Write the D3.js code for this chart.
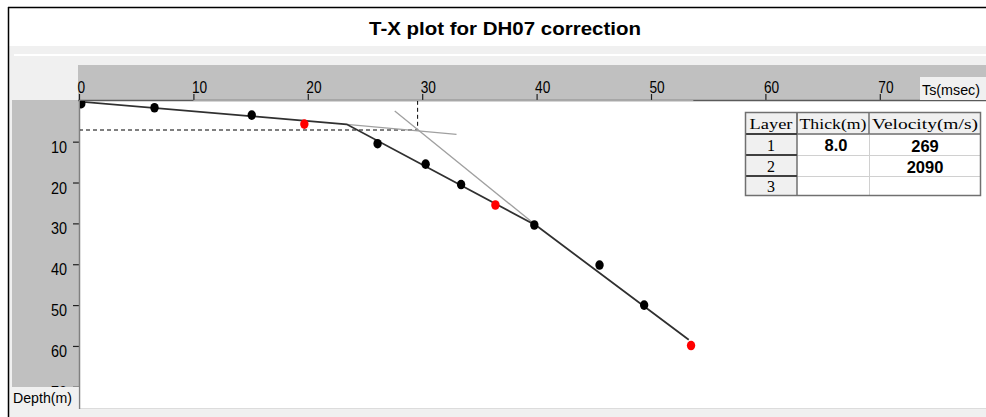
<!DOCTYPE html>
<html><head><meta charset="utf-8">
<script src="https://cdn.jsdelivr.net/npm/d3@7"></script>
<style>html,body{margin:0;padding:0;background:#fff;overflow:hidden}</style>
</head><body>
<svg id="c" width="986" height="417"></svg>
<script>
// ---- data ----
const timeMs   = [0.2, 6.6, 15.1, 19.7, 26.1, 30.3, 33.4, 36.4, 39.8, 45.5, 49.4, 53.5];
const depthM   = [0.7, 1.7, 3.5, 5.7, 10.5, 15.5, 20.5, 25.5, 30.4, 40.2, 50.0, 59.9];
const excluded = [false, false, false, true, false, false, false, true, false, false, false, true];
// fitted travel-time polyline
const fitT = [0, 23.4, 40.0, 53.3];
const fitD = [0.2, 5.75, 30.6, 58.5];
// extension (construction) lines
const ext1T = [23.4, 33.0], ext1D = [5.75, 8.2];
const ext2T = [27.6, 40.0], ext2D = [2.5, 30.6];
// intercept marker
const crossT = 29.6, crossD = 7.15;
// ticks
const xTicks = [0, 10, 20, 30, 40, 50, 60, 70];
const yTicks = [10, 20, 30, 40, 50, 60, 70];
// table
const tableHeader = ["Layer", "Thick(m)", "Velocity(m/s)"];
const layers = ["1", "2", "3"];
const thick = ["8.0", "", ""];
const velocity = ["269", "2090", ""];

const svg = d3.select("#c");
const x = d3.scaleLinear().domain([0, 70]).range([79, 879.8]);
const y = d3.scaleLinear().domain([0, 70]).range([100.8, 386.8]);

// ---- frame / background ----
svg.append("rect").attr("x",0).attr("y",0).attr("width",986).attr("height",417).attr("fill","#fff");
svg.append("rect").attr("x",9).attr("y",46).attr("width",977).attr("height",371).attr("fill","#f0f0f0");
svg.append("rect").attr("x",14).attr("y",54).attr("width",972).attr("height",2).attr("fill","#fff");
svg.append("line").attr("x1",8.5).attr("x2",8.5).attr("y1",7).attr("y2",417).attr("stroke","#000").attr("stroke-width",1.5);
svg.append("line").attr("x1",8).attr("x2",986).attr("y1",7.5).attr("y2",7.5).attr("stroke","#000").attr("stroke-width",1.5);

// title
svg.append("text").attr("x",505).attr("y",35).attr("text-anchor","middle")
  .attr("font-family","'Liberation Sans', Arial, sans-serif").attr("font-weight","bold").attr("font-size",18)
  .attr("textLength",272).attr("lengthAdjust","spacingAndGlyphs").attr("fill","#000")
  .text("T-X plot for DH07 correction");

// axis bands
svg.append("rect").attr("x",78).attr("y",65).attr("width",908).attr("height",36).attr("fill","#c0c0c0");
svg.append("rect").attr("x",12).attr("y",100).attr("width",67).attr("height",287).attr("fill","#c0c0c0");
// plot area
svg.append("rect").attr("x",80).attr("y",101).attr("width",906).attr("height",307).attr("fill","#fff");
svg.append("line").attr("x1",80).attr("x2",986).attr("y1",408.5).attr("y2",408.5).attr("stroke","#dcdcdc");

const defs = svg.append("defs");
defs.append("clipPath").attr("id","plotclip").append("rect")
  .attr("x",80).attr("y",101).attr("width",906).attr("height",307);
defs.append("clipPath").attr("id","yclip").append("rect")
  .attr("x",0).attr("y",100).attr("width",80).attr("height",287);

// x axis
const xg = svg.append("g").attr("transform","translate(0,100)")
  .call(d3.axisTop(x).tickValues(xTicks).tickSize(6).tickFormat(d3.format("d")));
xg.select(".domain").remove();
xg.selectAll(".tick line").attr("stroke","#202020").attr("stroke-width",1.2);
xg.selectAll(".tick text").attr("x",-2).attr("y",-7).attr("dy",0).attr("text-anchor","start")
  .attr("font-family","'Liberation Sans', Arial, sans-serif").attr("font-size",16).attr("fill","#000")
  .each(function(){ const n=this.textContent.length; d3.select(this).attr("textLength", n*7.6).attr("lengthAdjust","spacingAndGlyphs"); });
svg.append("line").attr("x1",78).attr("x2",986).attr("y1",100.5).attr("y2",100.5).attr("stroke","#5a5a5a").attr("stroke-width",1.5);
svg.append("line").attr("x1",x(10)).attr("x2",x(53.7)).attr("y1",100.5).attr("y2",100.5).attr("stroke","#a8a8a8").attr("stroke-width",1.2);

// Ts label box
svg.append("rect").attr("x",920).attr("y",77).attr("width",66).attr("height",23).attr("fill","#f0f0f0");
svg.append("text").attr("x",922).attr("y",95).attr("font-family","'Liberation Sans', Arial, sans-serif")
  .attr("font-size",15).attr("textLength",58).attr("lengthAdjust","spacingAndGlyphs").attr("fill","#000").text("Ts(msec)");

// y axis (clipped: the last label is partly hidden by the Depth(m) box)
const yg = svg.append("g").attr("clip-path","url(#yclip)").append("g").attr("transform","translate(79,0)")
  .call(d3.axisLeft(y).tickValues(yTicks).tickSize(6).tickFormat(d3.format("d")));
yg.select(".domain").remove();
yg.selectAll(".tick line").attr("stroke","#202020").attr("stroke-width",1.2);
yg.selectAll(".tick text").attr("x",-12).attr("y",10.5).attr("dy",0).attr("text-anchor","end")
  .attr("font-family","'Liberation Sans', Arial, sans-serif").attr("font-size",16).attr("fill","#000")
  .attr("textLength",16).attr("lengthAdjust","spacingAndGlyphs");
svg.append("line").attr("x1",79.5).attr("x2",79.5).attr("y1",100).attr("y2",409).attr("stroke","#808080").attr("stroke-width",1.5);

// Depth label box
svg.append("rect").attr("x",12).attr("y",387).attr("width",66.5).attr("height",22).attr("fill","#f0f0f0");
svg.append("text").attr("x",13).attr("y",403).attr("font-family","'Liberation Sans', Arial, sans-serif")
  .attr("font-size",15).attr("textLength",59).attr("lengthAdjust","spacingAndGlyphs").attr("fill","#000").text("Depth(m)");

// ---- plot content ----
const plot = svg.append("g").attr("clip-path","url(#plotclip)");
const line = d3.line().x(d => x(d[0])).y(d => y(d[1]));

// dashed intercept guides
plot.append("path").attr("d", line([[0, crossD],[crossT, crossD]]))
  .attr("fill","none").attr("stroke","#000").attr("stroke-width",1).attr("stroke-dasharray","4,3");
plot.append("path").attr("d", line([[crossT, 0],[crossT, crossD]]))
  .attr("fill","none").attr("stroke","#000").attr("stroke-width",1).attr("stroke-dasharray","4,3");

// extension lines
plot.append("path").attr("d", line(ext1T.map((t,i)=>[t, ext1D[i]])))
  .attr("fill","none").attr("stroke","#a0a0a0").attr("stroke-width",1.3);
plot.append("path").attr("d", line(ext2T.map((t,i)=>[t, ext2D[i]])))
  .attr("fill","none").attr("stroke","#a0a0a0").attr("stroke-width",1.3);

// fitted polyline
plot.append("path").attr("d", line(fitT.map((t,i)=>[t, fitD[i]])))
  .attr("fill","none").attr("stroke","#303030").attr("stroke-width",1.8);

// points
plot.selectAll("ellipse.pt").data(timeMs.map((t,i)=>({t, d:depthM[i], ex:excluded[i]})))
  .enter().append("ellipse").attr("class","pt")
  .attr("cx", d => x(d.t)).attr("cy", d => y(d.d)).attr("rx", 4.2).attr("ry", 4.8)
  .attr("fill", d => d.ex ? "#ff0000" : "#000");

// ---- table ----
const colX = [745, 797, 869, 981];
const rowY = [112, 134, 155, 176, 196];
const tg = svg.append("g");
tg.append("rect").attr("x",colX[0]).attr("y",rowY[0]).attr("width",colX[3]-colX[0]).attr("height",rowY[4]-rowY[0]).attr("fill","#fff");
tg.append("rect").attr("x",colX[0]).attr("y",rowY[0]).attr("width",colX[3]-colX[0]).attr("height",rowY[1]-rowY[0]).attr("fill","#f0f0f0");
tg.append("rect").attr("x",colX[0]).attr("y",rowY[0]).attr("width",colX[1]-colX[0]).attr("height",rowY[4]-rowY[0]).attr("fill","#f0f0f0");
for (let r = 2; r < 4; r++) tg.append("line").attr("x1",colX[1]).attr("x2",colX[3]).attr("y1",rowY[r]+0.5).attr("y2",rowY[r]+0.5).attr("stroke","#d0d0d0");
tg.append("line").attr("x1",colX[2]+0.5).attr("x2",colX[2]+0.5).attr("y1",rowY[1]).attr("y2",rowY[4]).attr("stroke","#d0d0d0");
tg.append("line").attr("x1",colX[1]).attr("x2",colX[3]).attr("y1",rowY[1]).attr("y2",rowY[1]).attr("stroke","#909090").attr("stroke-width",2);
[1,2].forEach(c => tg.append("line").attr("x1",colX[c]).attr("x2",colX[c]).attr("y1",rowY[0]).attr("y2",rowY[1]).attr("stroke","#707070").attr("stroke-width",1.5));
tg.append("line").attr("x1",colX[1]).attr("x2",colX[1]).attr("y1",rowY[0]).attr("y2",rowY[4]).attr("stroke","#707070").attr("stroke-width",1.5);
[1,2,3].forEach(r => tg.append("line").attr("x1",colX[0]).attr("x2",colX[1]).attr("y1",rowY[r]).attr("y2",rowY[r]).attr("stroke","#404040").attr("stroke-width",2));
tg.append("rect").attr("x",colX[0]+0.5).attr("y",rowY[0]+0.5).attr("width",colX[3]-colX[0]-1).attr("height",rowY[4]-rowY[0]-1)
  .attr("fill","none").attr("stroke","#707070").attr("stroke-width",1.5);

const headW = [43, 67, 106];
tableHeader.forEach((h,i) => {
  tg.append("text").attr("x",(colX[i]+colX[i+1])/2).attr("y",129).attr("text-anchor","middle")
    .attr("font-family","'Liberation Serif', 'DejaVu Serif', serif").attr("font-size",15)
    .attr("textLength",headW[i]).attr("lengthAdjust","spacingAndGlyphs").attr("fill","#000").text(h);
});
layers.forEach((l,i) => {
  tg.append("text").attr("x",(colX[0]+colX[1])/2).attr("y",rowY[i+2]-4).attr("text-anchor","middle")
    .attr("font-family","'Liberation Serif', 'DejaVu Serif', serif").attr("font-size",16).attr("fill","#000").text(l);
  if (thick[i]) tg.append("text").attr("x",836).attr("y",rowY[i+2]-4).attr("text-anchor","middle")
    .attr("font-family","'Liberation Sans', Arial, sans-serif").attr("font-weight","bold").attr("font-size",16.5).attr("fill","#000").text(thick[i]);
  if (velocity[i]) tg.append("text").attr("x",925).attr("y",rowY[i+2]-3).attr("text-anchor","middle")
    .attr("font-family","'Liberation Sans', Arial, sans-serif").attr("font-weight","bold").attr("font-size",16.5).attr("fill","#000").text(velocity[i]);
});
</script>
</body></html>
